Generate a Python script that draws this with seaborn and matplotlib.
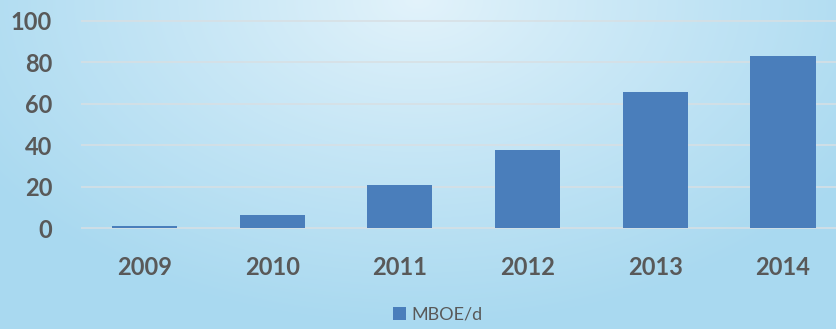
import numpy as np
import pandas as pd
import matplotlib
matplotlib.use("Agg")
import matplotlib.pyplot as plt
from matplotlib.colors import to_rgb
import seaborn as sns

# Daily production by year, in thousand barrels of oil equivalent per day
years = ["2009", "2010", "2011", "2012", "2013", "2014"]
mboe_per_day = [0.8, 6.1, 20.8, 37.7, 65.4, 82.8]
series_label = "MBOE/d"
y_ticks = [0, 20, 40, 60, 80, 100]

df = pd.DataFrame({"year": years, "value": mboe_per_day})

sns.set_theme(style="white")
plt.rcParams["font.family"] = ["Lato", "DejaVu Sans"]

W, H, DPI = 836, 329, 100
fig = plt.figure(figsize=(W / DPI, H / DPI), dpi=DPI)

# Soft radial light-blue backdrop, brightest near the top centre
bg = fig.add_axes([0, 0, 1, 1], zorder=-10)
bg.set_axis_off()
yy, xx = np.mgrid[0:1:H * 1j, 0:1:W * 1j]
r = np.sqrt(((xx - 0.5) / 0.62) ** 2 + (yy / 1.0) ** 2)
t = np.clip(r, 0, 1) ** 0.9
light = np.array(to_rgb("#e3f3fb"))
dark = np.array(to_rgb("#a9d9f0"))
img = light[None, None, :] * (1 - t[..., None]) + dark[None, None, :] * t[..., None]
bg.imshow(img, aspect="auto", extent=[0, 1, 0, 1], origin="upper")
bg.set_xlim(0, 1)
bg.set_ylim(0, 1)

# Plot area: category slots span x 80.6..846.8 px, value 0 at y=228, 100 at y=20.7
x0, x1 = 80.6, 846.8
y0_px, y100_px = 228.0, 20.7
ymin, ymax = -1.0, 101.0
ppu = (y0_px - y100_px) / 100.0
bottom_px = y0_px - ymin * ppu
top_px = y0_px - ymax * ppu
ax = fig.add_axes([x0 / W, 1 - bottom_px / H, (x1 - x0) / W, (bottom_px - top_px) / H])
ax.patch.set_alpha(0)

sns.barplot(data=df, x="year", y="value", color="#4a7ebb", saturation=1,
            width=0.51, linewidth=0, edgecolor="none", label=series_label,
            ax=ax, zorder=3)

ax.set_xlim(-0.5, 5.5)
ax.set_ylim(ymin, ymax)
ax.set_yticks(y_ticks)
ax.set_yticklabels([str(v) for v in y_ticks])
ax.yaxis.grid(True, color="#d8dfe3", linewidth=1.1, zorder=0)
ax.xaxis.grid(False)
for s in ax.spines.values():
    s.set_visible(False)
ax.set_xlabel("")
ax.set_ylabel("")
ax.tick_params(axis="y", length=0, pad=20.5, labelsize=17, labelcolor="#595959")
ax.tick_params(axis="x", length=0, pad=19, labelsize=17, labelcolor="#595959")
for lbl in ax.get_xticklabels() + ax.get_yticklabels():
    lbl.set_fontweight("bold")

if ax.legend_:
    ax.legend_.remove()
handles, labels = ax.get_legend_handles_labels()
fig.legend(handles, labels, loc="center", bbox_to_anchor=(438 / W, 1 - 315 / H),
           frameon=False, fontsize=13, handlelength=0.7, handleheight=0.7,
           handletextpad=0.3, labelcolor="#595959")

fig.savefig("out.png", dpi=DPI)
